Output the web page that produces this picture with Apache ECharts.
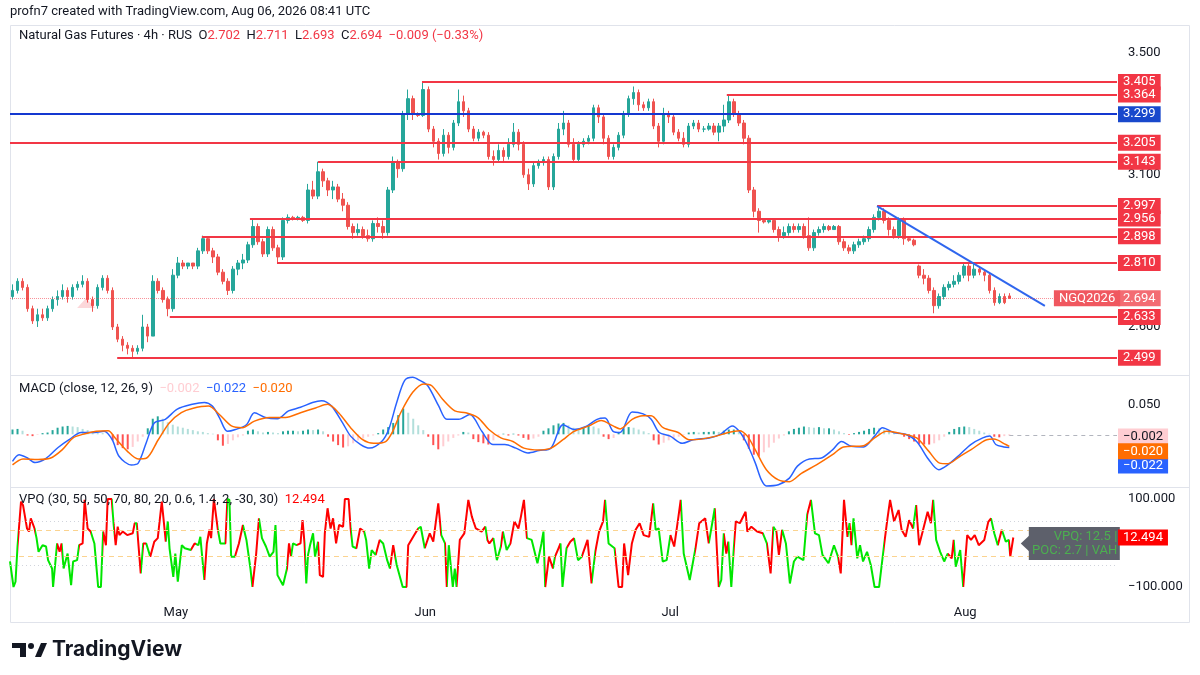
<!DOCTYPE html>
<html><head><meta charset="utf-8">
<script src="https://cdn.jsdelivr.net/npm/echarts@6/dist/echarts.min.js"></script>
<style>html,body{margin:0;padding:0;background:#fff}#c{width:1200px;height:675px}</style>
</head><body><div id="c"></div>
<script>
// ---------------- DATA ----------------
const open = [2.70,2.72,2.75,2.73,2.66,2.62,2.64,2.63,2.66,2.69, 2.70,2.72,2.70,2.73,2.74,2.75,2.69,2.67,2.73,2.76,
2.72,2.60,2.56,2.54,2.53,2.52,2.53,2.60,2.57,2.75, 2.72,2.69,2.66,2.77,2.81,2.80,2.81,2.80,2.85,2.89,
2.85,2.83,2.78,2.75,2.72,2.79,2.81,2.82,2.87,2.93, 2.88,2.84,2.92,2.86,2.83,2.95,2.96,2.955,2.96,2.95,
3.05,3.03,3.11,3.08,3.05,3.06,3.02,3.00,2.93,2.91, 2.92,2.90,2.89,2.94,2.93,2.91,3.05,3.14,3.12,3.30,
3.35,3.30,3.295,3.38,3.25,3.21,3.17,3.23,3.19,3.27, 3.34,3.31,3.25,3.22,3.24,3.23,3.16,3.15,3.18,3.16,
3.20,3.24,3.20,3.10,3.07,3.13,3.14,3.15,3.06,3.16, 3.25,3.27,3.20,3.15,3.20,3.21,3.22,3.32,3.29,3.22,
3.16,3.19,3.23,3.30,3.35,3.37,3.33,3.32,3.34,3.26, 3.21,3.30,3.29,3.24,3.22,3.20,3.26,3.27,3.25,3.25,
3.26,3.24,3.26,3.28,3.34,3.30,3.27,3.22,3.05,2.98, 2.95,2.945,2.95,2.92,2.90,2.91,2.93,2.92,2.93,2.90,
2.86,2.91,2.92,2.93,2.92,2.93,2.88,2.86,2.85,2.87, 2.88,2.89,2.92,2.96,2.98,2.95,2.92,2.90,2.95,2.89,
2.885,2.80,2.77,2.76,2.72,2.67,2.70,2.73,2.74,2.75, 2.77,2.80,2.77,2.79,2.78,2.77,2.72,2.68,2.70,2.702];
const close = [2.72,2.75,2.73,2.66,2.62,2.64,2.63,2.66,2.69,2.70, 2.72,2.70,2.73,2.74,2.75,2.69,2.67,2.73,2.76,2.72,
2.60,2.56,2.54,2.53,2.52,2.53,2.60,2.57,2.75,2.72, 2.69,2.66,2.77,2.81,2.80,2.81,2.80,2.85,2.89,2.85,
2.83,2.78,2.75,2.72,2.79,2.81,2.82,2.87,2.93,2.88, 2.84,2.92,2.86,2.83,2.95,2.96,2.955,2.96,2.95,3.05,
3.03,3.11,3.08,3.05,3.06,3.02,3.00,2.93,2.91,2.92, 2.90,2.89,2.94,2.93,2.91,3.05,3.14,3.12,3.30,3.35,
3.30,3.295,3.38,3.25,3.21,3.17,3.23,3.19,3.27,3.34, 3.31,3.25,3.22,3.24,3.23,3.16,3.15,3.18,3.16,3.20,
3.24,3.20,3.10,3.07,3.13,3.14,3.15,3.06,3.16,3.25, 3.27,3.20,3.15,3.20,3.21,3.22,3.32,3.29,3.22,3.16,
3.19,3.23,3.30,3.35,3.37,3.33,3.32,3.34,3.26,3.21, 3.30,3.29,3.24,3.22,3.20,3.26,3.27,3.25,3.25,3.26,
3.24,3.26,3.28,3.34,3.30,3.27,3.22,3.05,2.98,2.95, 2.945,2.95,2.92,2.90,2.91,2.93,2.92,2.93,2.90,2.86,
2.91,2.92,2.93,2.92,2.93,2.88,2.86,2.85,2.87,2.88, 2.89,2.92,2.96,2.98,2.95,2.92,2.90,2.95,2.89,2.885,
2.87,2.77,2.76,2.72,2.67,2.70,2.73,2.74,2.75,2.77, 2.80,2.77,2.79,2.78,2.77,2.72,2.68,2.70,2.68,2.694];
const low = [2.69,2.71,2.72,2.65,2.61,2.60,2.62,2.62,2.65,2.67, 2.69,2.68,2.69,2.72,2.73,2.68,2.65,2.66,2.72,2.71,
2.59,2.55,2.52,2.51,2.50,2.51,2.52,2.55,2.57,2.71, 2.68,2.635,2.65,2.76,2.79,2.79,2.79,2.79,2.84,2.84,
2.81,2.77,2.74,2.705,2.71,2.77,2.79,2.81,2.86,2.87, 2.83,2.83,2.85,2.81,2.82,2.94,2.95,2.95,2.945,2.94,
3.02,3.02,3.06,3.03,3.02,3.01,2.98,2.92,2.89,2.90, 2.89,2.88,2.88,2.91,2.89,2.90,3.04,3.09,3.11,3.28,
3.28,3.29,3.29,3.24,3.19,3.15,3.16,3.17,3.18,3.26, 3.29,3.24,3.21,3.21,3.22,3.15,3.13,3.14,3.14,3.15,
3.19,3.18,3.09,3.05,3.06,3.12,3.13,3.05,3.05,3.15, 3.23,3.19,3.14,3.14,3.19,3.20,3.21,3.27,3.20,3.15,
3.15,3.18,3.22,3.29,3.33,3.31,3.31,3.31,3.25,3.19, 3.20,3.27,3.23,3.21,3.19,3.19,3.25,3.24,3.24,3.245,
3.23,3.21,3.24,3.27,3.29,3.26,3.20,3.04,2.96,2.91, 2.94,2.94,2.91,2.88,2.89,2.90,2.91,2.91,2.89,2.85,
2.85,2.90,2.91,2.915,2.92,2.87,2.85,2.84,2.84,2.86, 2.87,2.88,2.91,2.95,2.94,2.90,2.89,2.89,2.87,2.88,
2.865,2.76,2.74,2.71,2.645,2.66,2.69,2.72,2.73,2.74, 2.76,2.75,2.76,2.77,2.75,2.71,2.67,2.675,2.675,2.693];
const high = [2.74,2.76,2.76,2.74,2.67,2.66,2.66,2.67,2.70,2.72, 2.74,2.73,2.74,2.75,2.77,2.76,2.70,2.74,2.77,2.77,
2.73,2.61,2.57,2.55,2.54,2.54,2.64,2.61,2.77,2.76, 2.73,2.70,2.79,2.83,2.82,2.81,2.81,2.86,2.90,2.895,
2.86,2.84,2.79,2.76,2.80,2.82,2.84,2.88,2.956,2.94, 2.89,2.93,2.93,2.87,2.96,2.97,2.965,2.965,2.965,3.07,
3.08,3.143,3.12,3.09,3.08,3.07,3.04,3.01,2.94,2.94, 2.93,2.92,2.95,2.96,2.95,3.06,3.16,3.15,3.31,3.38,
3.36,3.305,3.405,3.39,3.26,3.22,3.25,3.24,3.28,3.38, 3.36,3.32,3.26,3.25,3.245,3.24,3.18,3.20,3.19,3.22,
3.27,3.25,3.21,3.12,3.14,3.15,3.16,3.16,3.17,3.27, 3.31,3.28,3.22,3.21,3.22,3.23,3.33,3.33,3.30,3.23,
3.20,3.24,3.31,3.36,3.39,3.38,3.34,3.35,3.35,3.27, 3.32,3.31,3.30,3.25,3.24,3.27,3.28,3.28,3.26,3.27,
3.27,3.27,3.33,3.364,3.35,3.31,3.28,3.23,3.06,2.99, 2.955,2.955,2.955,2.93,2.93,2.94,2.94,2.94,2.94,2.96,
2.92,2.93,2.94,2.935,2.935,2.935,2.89,2.87,2.88,2.89, 2.90,2.93,2.97,2.997,2.99,2.96,2.93,2.96,2.96,2.895,
2.89,2.805,2.79,2.77,2.73,2.71,2.74,2.75,2.77,2.78, 2.81,2.81,2.81,2.80,2.79,2.78,2.73,2.71,2.71,2.711];

// horizontal levels: price and the bar index where each line begins
const levelPrices = [3.405, 3.364, 3.205, 3.143, 2.997, 2.956, 2.898, 2.810, 2.633, 2.499];
const levelStart  = [81.75, 142.6, -0.5, 61.0, 172.6, 47.4, 37.8, 52.8, 31.4, 20.9];
const blueLevel = 3.299;
const trendFrom = [172.6, 2.997];
const trendTo = [206.1, 2.669];
const markers = [[14.7, 2.679]];

// MACD (bar index, value)
const macdLine = [[0,-0.045],[1.3,-0.034],[2.9,-0.039],[4.5,-0.047],[6.7,-0.040],[9.1,-0.022],[11.3,-0.009],[13.7,0.003],[15.9,0.003],[18.3,0.005],[19.9,-0.009],[21.3,-0.037],[23.7,-0.051],[25.1,-0.048],[26.7,-0.014],[28.3,0.019],[30.5,0.025],[32.9,0.042],[35.9,0.050],[38.3,0.053],[39.9,0.047],[41.3,0.028],[42.9,0.005],[44.5,0.008],[46.7,0.016],[48.3,0.036],[50.5,0.028],[52.9,0.026],[55.1,0.039],[57.5,0.045],[59.9,0.053],[61.7,0.056],[63.7,0.047],[65.9,0.019],[67.5,-0.003],[69.5,-0.017],[71.3,-0.023],[73.7,-0.012],[75.1,0.008],[76.7,0.053],[78.3,0.090],[79.9,0.095],[81.3,0.090],[82.9,0.081],[85.1,0.047],[86.7,0.025],[89.1,0.025],[91.3,0.033],[93.7,0.005],[95.9,-0.017],[98.3,-0.017],[100.5,-0.023],[102.9,-0.031],[105.1,-0.027],[107.5,-0.023],[109.9,0.016],[112.1,0.008],[114.5,0.013],[116.7,0.025],[118.3,0.027],[119.9,0.005],[121.3,0.003],[123.7,0.037],[125.9,0.034],[127.5,0.025],[129.1,0.003],[131.3,-0.003],[133.7,-0.015],[135.9,-0.009],[139.1,-0.006],[141.3,0.000],[143.7,0.014],[145.1,0.005],[146.7,-0.017],[148.3,-0.048],[149.5,-0.076],[150.5,-0.086],[152.9,-0.084],[155.1,-0.073],[156.7,-0.053],[159.1,-0.041],[161.3,-0.040],[163.7,-0.026],[165.5,-0.012],[167.5,-0.020],[169.9,-0.021],[172.1,-0.003],[173.7,0.011],[175.9,0.003],[178.3,0.000],[180.5,-0.012],[182.9,-0.042],[184.9,-0.059],[186.7,-0.051],[189.1,-0.034],[191.3,-0.017],[193.7,-0.006],[195.1,-0.003],[196.3,-0.017],[197.9,-0.021],[199,-0.022]];
const signalLine = [[0,-0.051],[2.1,-0.041],[5.1,-0.042],[7.5,-0.040],[9.9,-0.026],[12.1,-0.006],[14.5,0.001],[16.7,0.005],[19.1,0.006],[20.5,-0.006],[22.9,-0.028],[25.1,-0.041],[26.7,-0.040],[29.1,-0.009],[31.3,0.019],[33.7,0.036],[35.9,0.043],[39.1,0.047],[41.3,0.033],[43.7,0.014],[45.9,0.011],[48.3,0.022],[51.3,0.028],[54.5,0.028],[57.5,0.036],[60.5,0.044],[62.9,0.050],[65.1,0.036],[67.5,0.011],[69.9,-0.009],[72.1,-0.015],[74.5,-0.012],[75.9,0.005],[77.5,0.036],[79.9,0.070],[82.1,0.084],[83.7,0.081],[85.9,0.058],[88.3,0.039],[90.5,0.036],[92.9,0.028],[95.1,0.008],[97.5,-0.006],[99.9,-0.012],[102.1,-0.023],[105.1,-0.026],[107.5,-0.023],[109.9,-0.009],[112.1,0.005],[115.1,0.014],[117.5,0.023],[119.9,0.014],[121.3,0.009],[123.7,0.025],[125.9,0.031],[127.5,0.031],[129.9,0.011],[132.9,0.003],[135.1,-0.009],[137.5,-0.008],[140.5,-0.003],[142.9,0.003],[145.1,0.006],[146.7,-0.003],[148.3,-0.026],[150.5,-0.059],[152.9,-0.076],[155.1,-0.079],[157.5,-0.065],[160.5,-0.051],[163.7,-0.034],[165.9,-0.021],[169.9,-0.019],[172.1,-0.006],[174.5,0.005],[177.5,0.001],[180.5,-0.006],[182.9,-0.028],[185.1,-0.048],[186.7,-0.049],[189.1,-0.037],[191.3,-0.026],[194.5,-0.009],[195.9,-0.008],[198.3,-0.017],[199,-0.020]];
const macdHist = [0.008,0.009,0.006,-0.002,-0.003,-0.001,0.002,0.003,0.007,0.011,
0.013,0.014,0.013,0.012,0.009,0.007,0.005,0.003,0.002,0.000,
-0.010,-0.018,-0.023,-0.025,-0.021,-0.012,-0.004,0.010,0.026,0.030,
0.026,0.020,0.016,0.013,0.011,0.009,0.007,0.005,0.004,0.002,
0.001,-0.010,-0.019,-0.016,-0.010,-0.005,-0.002,0.006,0.008,0.005,
0.003,0.004,0.003,0.002,0.005,0.006,0.006,0.005,0.006,0.008,
0.007,0.008,0.005,-0.004,-0.012,-0.018,-0.022,-0.020,-0.015,-0.010,
-0.007,-0.004,-0.002,0.002,0.008,0.012,0.019,0.032,0.043,0.036,
0.026,0.015,0.007,-0.004,-0.018,-0.025,-0.020,-0.012,-0.006,-0.002,
0.004,0.003,-0.008,-0.013,-0.015,-0.017,-0.010,-0.005,0.001,-0.002,
0.001,-0.002,-0.006,-0.009,-0.007,-0.004,0.006,0.010,0.015,0.018,
0.019,0.015,0.011,0.009,0.012,0.014,0.013,0.010,-0.004,-0.008,
-0.006,0.004,0.010,0.012,0.011,0.008,0.005,0.002,-0.010,-0.017,
-0.014,-0.010,-0.007,-0.004,-0.001,0.003,0.004,0.003,0.004,0.004,
0.005,0.004,0.006,0.008,0.008,0.004,-0.010,-0.024,-0.034,-0.037,
-0.030,-0.022,-0.014,-0.007,-0.002,0.005,0.009,0.011,0.013,0.012,
0.011,0.012,0.010,0.010,0.008,0.005,0.002,-0.001,0.002,0.004,
0.006,0.009,0.011,0.010,0.008,0.006,0.003,0.001,-0.004,-0.008,
-0.012,-0.016,-0.017,-0.017,-0.015,-0.010,-0.004,0.004,0.009,0.012,
0.013,0.012,0.009,0.006,0.003,0.001,-0.004,-0.005,-0.003,-0.002];

// VPQ: [bar index, value, segment colour r/g]
const vpq = [[-0.5,-42,'g'],[0.2,-100,'g'],[0.6,-88,'g'],[1.0,-8,'g'],[1.35,-4,'r'],[1.7,94,'r'],[2.1,86,'r'],[2.9,33,'r'],[3.3,26,'r'],[3.65,56,'r'],[4.4,33,'r'],[4.8,11,'g'],[5.2,-20,'g'],[6.0,-5,'g'],[6.7,-8,'g'],[7.1,-39,'g'],[7.9,-58,'g'],[8.1,-100,'g'],[8.9,-1,'g'],[9.4,-20,'r'],[9.8,-1,'r'],[10.2,-58,'g'],[11.0,-24,'g'],[11.7,-96,'g'],[12.1,-42,'g'],[12.9,-39,'g'],[13.3,-5,'g'],[14.0,-1,'r'],[14.4,98,'r'],[15.0,33,'r'],[15.6,26,'r'],[16.35,-1,'g'],[17.1,-100,'g'],[17.65,-100,'g'],[18.1,26,'g'],[18.65,-5,'r'],[19.0,100,'r'],[19.8,100,'r'],[20.2,41,'g'],[20.6,-5,'r'],[21.0,37,'r'],[21.35,18,'r'],[22.0,26,'r'],[22.9,18,'r'],[24.0,22,'r'],[24.4,45,'r'],[24.8,45,'g'],[25.6,-69,'r'],[26.1,-1,'g'],[26.7,-1,'r'],[27.5,-31,'g'],[28.3,3,'r'],[29.0,11,'r'],[29.8,94,'r'],[30.2,49,'r'],[30.6,3,'r'],[31.0,49,'g'],[31.35,-12,'g'],[32.1,-77,'g'],[32.5,-24,'g'],[33.0,-88,'g'],[33.8,-5,'g'],[34.4,-12,'g'],[35.6,-16,'g'],[36.35,-1,'r'],[36.7,3,'r'],[37.1,-5,'g'],[37.5,14,'g'],[38.3,-84,'g'],[38.8,-1,'r'],[39.3,30,'r'],[39.65,11,'r'],[40.2,100,'r'],[41.0,30,'r'],[41.5,-1,'g'],[42.5,-1,'g'],[42.9,100,'r'],[43.3,98,'g'],[43.65,-31,'g'],[44.4,-31,'g'],[45.2,-1,'r'],[46.0,41,'r'],[46.7,7,'g'],[47.5,-58,'g'],[47.9,-100,'g'],[48.65,-24,'r'],[49.2,56,'r'],[49.8,11,'g'],[50.6,-8,'g'],[51.35,-31,'g'],[52.1,-20,'g'],[52.5,41,'g'],[52.9,-73,'g'],[54.0,-96,'g'],[54.8,-58,'g'],[55.2,-1,'r'],[55.6,-31,'r'],[56.0,-1,'g'],[56.7,-5,'g'],[57.5,-1,'r'],[57.9,52,'r'],[58.3,-1,'r'],[58.65,-92,'g'],[59.0,-27,'g'],[59.4,-5,'g'],[60.0,22,'g'],[60.4,-31,'g'],[61.0,3,'g'],[61.35,-73,'r'],[62.0,-77,'r'],[62.35,22,'r'],[62.9,79,'r'],[63.5,33,'r'],[64.0,56,'r'],[64.6,-1,'r'],[65.2,41,'r'],[66.0,37,'r'],[66.35,100,'r'],[67.1,100,'r'],[67.5,33,'r'],[67.9,-8,'g'],[68.65,-12,'g'],[69.4,33,'r'],[70.2,26,'r'],[70.6,7,'g'],[71.2,-58,'g'],[71.7,-16,'g'],[72.5,-27,'g'],[73.3,7,'r'],[74.0,-1,'g'],[74.8,-39,'g'],[75.35,-58,'g'],[76.0,-5,'r'],[76.35,-1,'r'],[76.7,-50,'g'],[77.9,-100,'g'],[78.65,-100,'g'],[79.0,-5,'r'],[80.2,18,'r'],[81.0,33,'r'],[81.5,37,'g'],[82.3,-12,'g'],[83.3,22,'r'],[84.0,3,'r'],[85.0,90,'r'],[85.6,18,'r'],[86.35,-1,'g'],[86.7,-100,'r'],[87.1,-5,'g'],[87.9,-100,'g'],[88.3,-58,'g'],[88.65,-100,'g'],[89.3,7,'r'],[90.2,22,'r'],[91.0,98,'r'],[91.7,60,'r'],[92.5,33,'r'],[93.65,26,'r'],[94.4,37,'r'],[94.8,7,'g'],[95.2,-1,'r'],[96.0,11,'r'],[96.7,-39,'g'],[97.5,-8,'g'],[97.9,26,'r'],[98.65,-16,'g'],[99.4,-1,'g'],[100.2,49,'r'],[101.0,33,'r'],[101.5,60,'r'],[102.1,98,'r'],[102.7,11,'r'],[103.65,7,'g'],[104.8,-46,'g'],[105.6,-1,'g'],[106.0,26,'g'],[106.35,-100,'g'],[107.1,-31,'r'],[107.9,-58,'r'],[108.3,-31,'g'],[109.0,-12,'r'],[109.4,-1,'r'],[109.8,-100,'g'],[110.6,-12,'g'],[111.35,3,'r'],[112.1,11,'r'],[112.9,-39,'g'],[113.65,-31,'g'],[114.8,7,'r'],[115.6,-92,'r'],[116.35,-20,'g'],[117.1,26,'r'],[117.9,49,'r'],
[118.3,98,'r'],[119.0,-1,'g'],[120.2,-12,'g'],[121.0,-100,'r'],[121.7,-100,'r'],[122.1,-1,'r'],[122.9,-73,'r'],[123.65,-1,'r'],[124.4,30,'r'],[125.2,45,'r'],[126.0,18,'r'],[127.1,14,'r'],[127.9,90,'r'],[128.4,30,'g'],[129.0,33,'g'],[129.8,-42,'g'],[130.6,-39,'g'],[131.35,18,'g'],[132.1,-8,'r'],[132.9,56,'r'],[133.4,98,'r'],[134.0,-24,'g'],[135.2,-84,'g'],[136.35,-12,'g'],[137.1,45,'r'],[138.3,56,'r'],[139.0,-1,'r'],[140.2,79,'g'],[141.0,-100,'r'],[141.5,-84,'g'],[142.0,22,'g'],[142.5,-24,'r'],[142.9,3,'r'],[143.5,-100,'g'],[144.0,-12,'g'],[144.4,49,'r'],[145.2,45,'r'],[146.35,71,'r'],[146.7,26,'r'],[147.5,37,'r'],[148.65,26,'r'],[149.8,22,'r'],[150.6,-1,'g'],[151.35,-69,'r'],[151.9,37,'r'],[152.5,26,'g'],[153.0,-27,'r'],[153.65,30,'r'],[154.4,-1,'g'],[155.2,-92,'g'],[156.0,-42,'g'],[156.7,-31,'g'],[157.9,-39,'g'],[158.65,64,'g'],[159.4,98,'r'],[160.2,22,'g'],[161.0,18,'g'],[161.7,-27,'g'],[162.9,-46,'g'],[164.0,-5,'g'],[164.8,-31,'g'],[165.35,-69,'r'],[166.0,98,'r'],[166.7,14,'r'],[167.1,45,'g'],[167.5,-5,'r'],[167.9,56,'g'],[168.65,-35,'g'],[169.2,-5,'g'],[169.8,-42,'g'],[170.6,-20,'g'],[171.35,-50,'g'],[172.1,-100,'g'],[173.0,-100,'g'],[174.0,-5,'g'],[174.6,49,'r'],[175.2,98,'r'],[176.0,49,'r'],[176.9,75,'r'],[177.5,30,'r'],[178.3,14,'r'],[179.0,52,'r'],[179.8,33,'r'],[180.4,86,'g'],[181.0,-5,'r'],[181.7,26,'r'],[182.7,71,'r'],[183.35,45,'r'],[183.8,98,'r'],[184.4,7,'g'],[185.2,-20,'g'],[186.0,-42,'g'],[186.7,-24,'g'],[187.5,-35,'r'],[187.9,7,'r'],[188.3,-54,'g'],[189.2,-16,'g'],[189.8,-100,'g'],[190.6,18,'r'],[191.35,7,'r'],[192.1,18,'r'],[192.9,-5,'r'],[194.0,7,'r'],[194.8,48,'r'],[195.35,56,'r'],[196.0,22,'g'],[196.7,-5,'g'],[197.5,30,'r'],[198.3,3,'g'],[198.9,7,'g'],[199.2,-31,'r'],[199.8,12.494,'r']];
const vpqBands = [30, -30];
const vpqLevels = [50, -50];

const monthLabels = ['May', 'Jun', 'Jul', 'Aug'];
const monthPos = [32.6, 82.4, 131.3, 190.2];
const priceTicks = [3.5, 3.1, 2.6];
const macdTicks = [0.05];
const vpqTicks = [100, -100];

// ---------------- STYLE / BUILD ----------------
const FONT = 'Roboto, "Noto Sans", sans-serif';
const FS = 13;
const TXT = '#131722';
const UP = '#26a69a', DOWN = '#ef5350', LEVEL = '#f23645';
const VRED = '#ff0000', VGREEN = '#00e600';
const CLEAR = 'rgba(0,0,0,0)';
const X_MIN = -0.5, X_MAX = 220.5;
const lastClose = close[close.length - 1];
const fmtMinus = (v, d) => (v < 0 ? '\u2212' : '') + Math.abs(v).toFixed(d);

function endBox(text, bg, fg, shift) {
  const box = {backgroundColor: bg, color: fg || '#fff', padding: [2, 5, 1, 5], fontSize: FS, fontFamily: FONT, lineHeight: 13};
  const lbl = {show: true, position: 'end', distance: 1, fontFamily: FONT, fontSize: FS, opacity: 1};
  if (!shift) { Object.assign(lbl, box, {formatter: text}); }
  else {
    lbl.formatter = shift > 0 ? '{sp| }\n{bx|' + text + '}' : '{bx|' + text + '}\n{sp| }';
    lbl.rich = {sp: {lineHeight: Math.abs(shift) * 2, fontSize: 1}, bx: box};
  }
  return lbl;
}

const candleData = open.map((o, i) => [i, o, close[i], low[i], high[i]]);

const mainLines = levelPrices.map((p, k) => [
  {coord: [levelStart[k], p], lineStyle: {color: LEVEL, width: 2, type: 'solid'}, label: endBox(p.toFixed(3), LEVEL)},
  {coord: [X_MAX, p]}
]);
mainLines.push([
  {coord: [X_MIN, blueLevel], lineStyle: {color: '#1438d0', width: 2, type: 'solid'}, label: endBox(blueLevel.toFixed(3), '#1848cc')},
  {coord: [X_MAX, blueLevel]}
]);
mainLines.push([
  {coord: trendFrom, lineStyle: {color: '#2f66ee', width: 2, type: 'solid'}, label: {show: false}},
  {coord: trendTo}
]);
mainLines.push([
  {coord: [X_MIN, lastClose], lineStyle: {color: 'rgba(242,54,69,0.55)', width: 1, type: 'dotted'}, label: endBox(lastClose.toFixed(3), '#f36c73')},
  {coord: [X_MAX, lastClose]}
]);
mainLines.push([
  {coord: [X_MIN, lastClose], lineStyle: {color: CLEAR, width: 1}, label: Object.assign(endBox('NGQ2026', '#f0575f'), {padding: [2, 5, 1, 5]})},
  {coord: [X_MAX - 12.8, lastClose]}
]);

const histData = macdHist.map((v, i) => {
  const p = i > 0 ? macdHist[i - 1] : v;
  let c;
  if (v >= 0) c = v >= p ? '#26a69a' : '#b2dfdb';
  else c = v <= p ? '#ff5252' : '#ffcdd2';
  return {value: [i, v], itemStyle: {color: c}};
});
const lastHist = macdHist[macdHist.length - 1];
const lastMacd = macdLine[macdLine.length - 1];
const lastSig = signalLine[signalLine.length - 1];
const lastVpq = vpq[vpq.length - 1];

const vpqPieces = [];
for (let k = 1; k < vpq.length; k++) {
  const col = vpq[k][2] === 'r' ? VRED : VGREEN;
  const last = vpqPieces[vpqPieces.length - 1];
  if (last && last.color === col) last.lt = vpq[k][0];
  else vpqPieces.push({gte: vpq[k - 1][0], lt: vpq[k][0], color: col});
}
vpqPieces[0].gte = X_MIN - 1;
vpqPieces[vpqPieces.length - 1].lt = X_MAX + 1;

const vpqMarkLines = [];
vpqBands.forEach(v => vpqMarkLines.push([{coord: [X_MIN, v], lineStyle: {color: '#fbd38f', width: 1, type: [5, 4]}, label: {show: false}}, {coord: [X_MAX, v]}]));
vpqLevels.forEach(v => vpqMarkLines.push([{coord: [X_MIN, v], lineStyle: {color: '#d1d4dc', width: 1, type: [1, 3]}, label: {show: false}}, {coord: [X_MAX, v]}]));
vpqMarkLines.push([{coord: [lastVpq[0], lastVpq[1]], lineStyle: {color: CLEAR, width: 1}, label: endBox(lastVpq[1].toFixed(3), '#ff0000')}, {coord: [X_MAX, lastVpq[1]]}]);

const hiddenX = (gi) => ({type: 'value', gridIndex: gi, min: X_MIN, max: X_MAX, axisLine: {show: false}, axisTick: {show: false}, splitLine: {show: false}, axisLabel: {show: false}});
const yAx = (gi, min, max, ticks, fmt) => ({type: 'value', gridIndex: gi, position: 'right', min, max, scale: true,
  axisLine: {show: false}, axisTick: {show: false}, splitLine: {show: false},
  axisLabel: {show: true, customValues: ticks, formatter: fmt, margin: 11, color: TXT, fontSize: FS, fontFamily: FONT}});

const titleStyle = {fontSize: FS, fontWeight: 'normal', color: TXT, fontFamily: FONT};
const rich = (c) => ({color: c, fontSize: FS, fontFamily: FONT});

const option = {
  animation: false,
  backgroundColor: '#ffffff',
  title: [
    {text: 'profn7 created with TradingView.com, Aug 06, 2026 08:41 UTC', left: 10, top: 5, padding: 0, textStyle: titleStyle},
    {text: 'Natural Gas Futures \u00b7 4h \u00b7 RUS  O{r|2.702}  H{r|2.711}  L{r|2.693}  C{r|2.694}  {r|\u22120.009 (\u22120.33%)}', left: 19, top: 29, padding: 0,
      textStyle: Object.assign({}, titleStyle, {rich: {r: rich('#f23645')}})},
    {text: 'MACD (close, 12, 26, 9)  {p|\u22120.002}  {b|\u22120.022}  {o|\u22120.020}', left: 19, top: 382, padding: 0,
      textStyle: Object.assign({}, titleStyle, {rich: {p: rich('#ffcdd2'), b: rich('#2962ff'), o: rich('#ff6d00')}})},
    {text: 'VPQ (30, 50, 50, 70, 80, 20, 0.6, 1.4, 2, -30, 30)  {r|12.494}', left: 19, top: 493, padding: 0,
      textStyle: Object.assign({}, titleStyle, {rich: {r: rich('#ff0000')}})}
  ],
  grid: [
    {left: 10, right: 83, top: 25, height: 350},
    {left: 10, right: 83, top: 376, height: 111},
    {left: 10, right: 83, top: 488, height: 109}
  ],
  xAxis: [
    hiddenX(0), hiddenX(1),
    {type: 'value', gridIndex: 2, min: X_MIN, max: X_MAX, axisLine: {show: false}, axisTick: {show: false}, splitLine: {show: false},
      axisLabel: {show: true, customValues: monthPos, margin: 9, color: TXT, fontSize: FS, fontFamily: FONT,
        formatter: (v) => { const k = monthPos.findIndex(p => Math.abs(p - v) < 0.01); return k >= 0 ? monthLabels[k] : ''; }}}
  ],
  yAxis: [
    yAx(0, 2.4422, 3.592, priceTicks, v => v.toFixed(3)),
    yAx(1, -0.0878, 0.0972, macdTicks, v => fmtMinus(v, 3)),
    yAx(2, -122.7, 125, vpqTicks, v => fmtMinus(v, 3))
  ],
  visualMap: [{type: 'piecewise', show: false, seriesIndex: 5, dimension: 0, pieces: vpqPieces}],
  series: [
    {type: 'candlestick', xAxisIndex: 0, yAxisIndex: 0, data: candleData, encode: {x: 0, y: [1, 2, 3, 4]}, barWidth: 3,
      itemStyle: {color: UP, color0: DOWN, borderColor: UP, borderColor0: DOWN, borderWidth: 1},
      markLine: {silent: true, animation: false, symbol: ['none', 'none'], data: mainLines}},
    {type: 'scatter', xAxisIndex: 0, yAxisIndex: 0, data: markers, symbol: 'triangle', symbolSize: [18, 10],
      itemStyle: {color: 'rgba(242,54,69,0.25)'}, silent: true},
    {type: 'bar', xAxisIndex: 1, yAxisIndex: 1, data: histData, barWidth: 2,
      markLine: {silent: true, animation: false, symbol: ['none', 'none'], data: [
        [{coord: [199, lastHist], lineStyle: {color: '#b2b5be', width: 1, type: [4, 4]}, label: endBox(fmtMinus(lastHist, 3), '#ffcdd2', TXT, 1)}, {coord: [X_MAX, lastHist]}]
      ]}},
    {type: 'line', xAxisIndex: 1, yAxisIndex: 1, data: macdLine, showSymbol: false, smooth: 0.3,
      lineStyle: {color: '#2962ff', width: 1.5}, itemStyle: {color: '#2962ff'},
      markLine: {silent: true, animation: false, symbol: ['none', 'none'], data: [
        [{coord: lastMacd, lineStyle: {color: CLEAR, width: 1}, label: endBox(fmtMinus(lastMacd[1], 3), '#2962ff', '#fff', 18)}, {coord: [X_MAX, lastMacd[1]]}]
      ]}},
    {type: 'line', xAxisIndex: 1, yAxisIndex: 1, data: signalLine, showSymbol: false, smooth: 0.3,
      lineStyle: {color: '#ff6d00', width: 1.5}, itemStyle: {color: '#ff6d00'},
      markLine: {silent: true, animation: false, symbol: ['none', 'none'], data: [
        [{coord: lastSig, lineStyle: {color: CLEAR, width: 1}, label: endBox(fmtMinus(lastSig[1], 3), '#ff6d00', '#fff', 5)}, {coord: [X_MAX, lastSig[1]]}]
      ]}},
    {type: 'line', xAxisIndex: 2, yAxisIndex: 2, data: vpq.map(d => [d[0], d[1]]), showSymbol: false,
      lineStyle: {width: 2}, z: 3,
      markLine: {silent: true, animation: false, symbol: ['none', 'none'], data: vpqMarkLines},
      markPoint: {silent: true, animation: false, data: [
        {coord: [lastVpq[0], lastVpq[1]], symbol: 'path://M0,5L8,0L8,10Z', symbolSize: [9, 17], symbolOffset: [12, 6], itemStyle: {color: '#5d606b'}, label: {show: false}},
        {coord: [lastVpq[0], lastVpq[1]], symbol: 'rect', symbolSize: [91, 33], symbolOffset: [61, 6], itemStyle: {color: '#5d606b'},
          label: {show: true, position: 'inside', formatter: '{a|VPQ: 12.5 |}\n{a|POC: 2.7 | VAH}',
            rich: {a: {color: '#4caf50', fontSize: FS, fontFamily: FONT, width: 86, align: 'right', lineHeight: 14}}}}
      ]}}
  ],
  graphic: [
    {type: 'rect', silent: true, z: -10, shape: {x: 10.5, y: 25.5, width: 1179, height: 597}, style: {fill: 'none', stroke: '#e0e3eb', lineWidth: 1}},
    {type: 'line', silent: true, shape: {x1: 10, y1: 375.5, x2: 1190, y2: 375.5}, style: {stroke: '#e0e3eb', lineWidth: 1}},
    {type: 'line', silent: true, shape: {x1: 10, y1: 487.5, x2: 1190, y2: 487.5}, style: {stroke: '#e0e3eb', lineWidth: 1}},
    {type: 'rect', silent: true, shape: {x: 12, y: 643, width: 14, height: 5}, style: {fill: TXT}},
    {type: 'rect', silent: true, shape: {x: 20, y: 643, width: 6, height: 14}, style: {fill: TXT}},
    {type: 'circle', silent: true, shape: {cx: 31, cy: 646, r: 3}, style: {fill: TXT}},
    {type: 'polygon', silent: true, shape: {points: [[35, 657], [41, 643], [47, 643], [41, 657]]}, style: {fill: TXT}},
    {type: 'text', silent: true, style: {text: 'TradingView', x: 52, y: 650, fill: TXT, fontSize: 21, fontWeight: 'bold', fontFamily: 'Inter, Roboto, sans-serif', verticalAlign: 'middle'}}
  ]
};

const chart = echarts.init(document.getElementById('c'), null, {renderer: 'canvas'});
chart.setOption(option);
</script>
</body></html>
